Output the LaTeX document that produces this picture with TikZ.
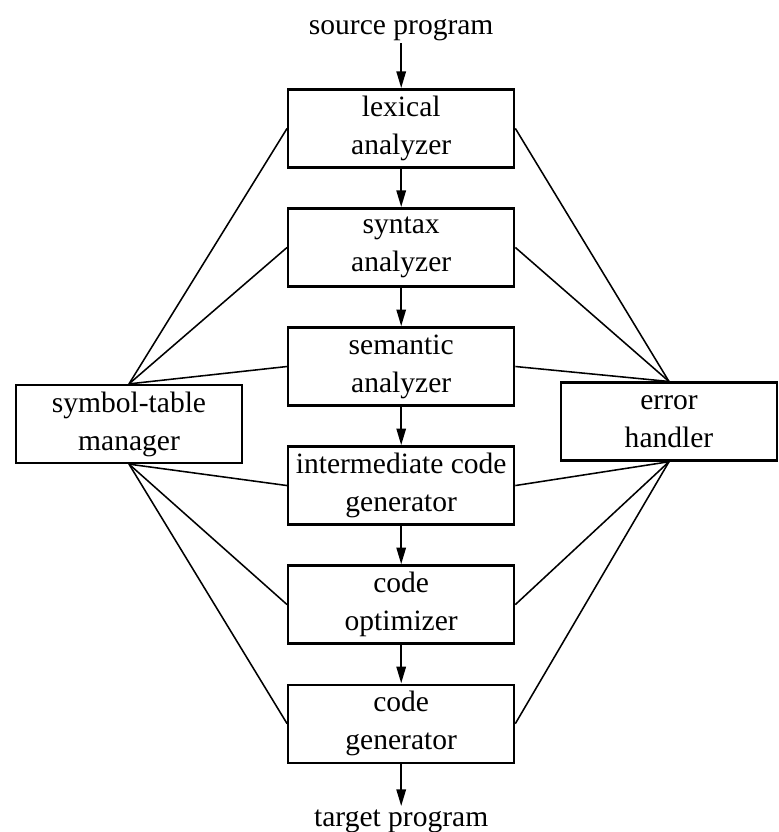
\documentclass[tikz,border=0pt]{standalone}
\usepackage{fontspec}
\setmainfont{Liberation Serif}
\usepackage{tikz}
\usetikzlibrary{positioning, arrows.meta}
\tikzstyle{phase} = [rectangle, minimum width=5.65cm, minimum height=1.95cm, align=center, draw=black, line width=1.6pt, font=\fontsize{21}{27}\selectfont]
\tikzstyle{helper} = [rectangle, minimum width=5.65cm, minimum height=1.95cm, align=center, draw=black, line width=1.6pt, font=\fontsize{21}{27}\selectfont]
\tikzstyle{ends} = [inner sep=2pt, font=\fontsize{21}{27}\selectfont]
\tikzstyle{arrow} = [line width=1.8pt,-{Triangle[length=12pt,width=6.5pt]}]
\tikzstyle{link} = [line width=1.1pt]

\begin{document}
\begin{tikzpicture}[node distance=0.97cm]
   \useasboundingbox (0,0) rectangle (19.475,-20.8);
   % compiler phases
   \node (lex) [phase] at (10.03,-3.21) {lexical\\analyzer};
   \node (syn) [phase, below=of lex] {syntax\\analyzer};
   \node (sem) [phase, below=of syn] {semantic\\analyzer};
   \node (icg) [phase, below=of sem] {intermediate code\\generator};
   \node (opt) [phase, below=of icg] {code\\optimizer};
   \node (gen) [phase, below=of opt] {code\\generator};
   \node (src) [ends, anchor=base] at (10.03,-0.85) {source program};
   \node (tgt) [ends, anchor=base] at (10.03,-20.65) {target program};
   % side boxes
   \node (sym) [helper] at (3.225,-10.6) {symbol-table\\manager};
   \node (err) [helper, minimum width=5.4cm] at (16.725,-10.54) {error\\handler};
   \draw [arrow] (src) -- (lex);
   \draw [arrow] (lex) -- (syn);
   \draw [arrow] (syn) -- (sem);
   \draw [arrow] (sem) -- (icg);
   \draw [arrow] (icg) -- (opt);
   \draw [arrow] (opt) -- (gen);
   \draw [arrow] (gen) -- (tgt);
   \draw [link] (sym.north) -- (lex.west);
   \draw [link] (sym.north) -- (syn.west);
   \draw [link] (sym.north) -- (sem.west);
   \draw [link] (sym.south) -- (icg.west);
   \draw [link] (sym.south) -- (opt.west);
   \draw [link] (sym.south) -- (gen.west);
   \draw [link] (err.north) -- (lex.east);
   \draw [link] (err.north) -- (syn.east);
   \draw [link] (err.north) -- (sem.east);
   \draw [link] (err.south) -- (icg.east);
   \draw [link] (err.south) -- (opt.east);
   \draw [link] (err.south) -- (gen.east);
\end{tikzpicture}
\end{document}
